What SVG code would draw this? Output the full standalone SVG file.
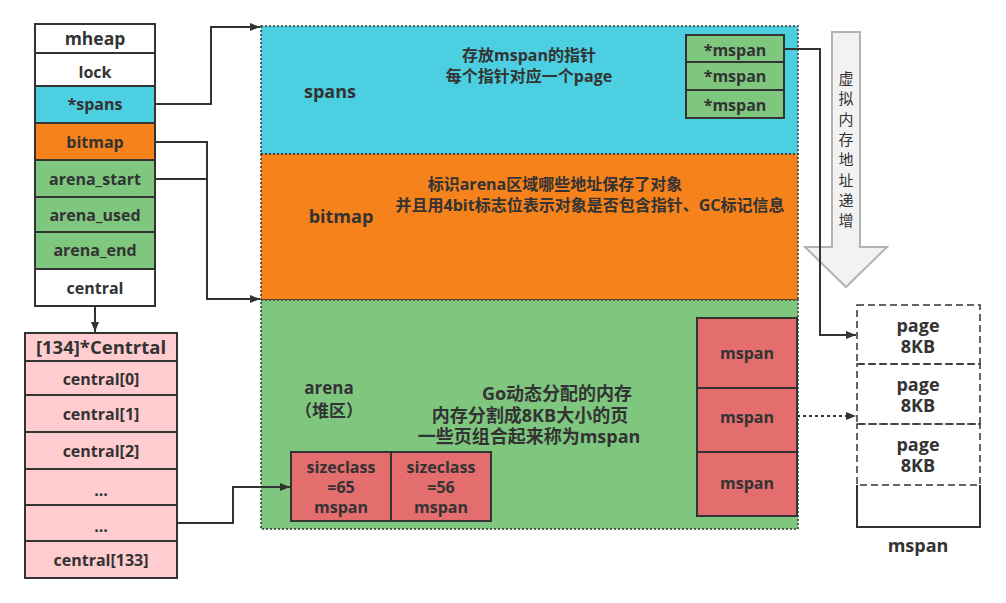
<svg xmlns="http://www.w3.org/2000/svg" width="1006" height="603" viewBox="0 0 1006 603">
<defs>
<marker id="arr" viewBox="0 0 10 10" refX="10" refY="5" markerWidth="10" markerHeight="10" markerUnits="userSpaceOnUse" orient="auto">
<path d="M0,1 L10,5 L0,9 Z" fill="#333"/>
</marker>
</defs>
<style>
text{font-family:"Open Sans","Noto Sans CJK SC",sans-serif;font-size:16px;font-weight:bold;fill:#333;text-anchor:middle;dominant-baseline:central}
.big{font-size:18px}
.cell{stroke:#333;stroke-width:2}
.white{fill:#fff}
.cyan{fill:#4CCFE0}
.orange{fill:#F5821A}
.green{fill:#7FC77F}
.red{fill:#E46E6E}
.pink{fill:#FFCCD0}
.region{stroke:#333;stroke-width:1.5;stroke-dasharray:2 2}
.conn{fill:none;stroke:#333;stroke-width:2}
.dash{fill:none;stroke:#333;stroke-width:1.5;stroke-dasharray:7 4}
.vt{font-weight:normal;font-size:15px;fill:#333}
</style>

<g id="regions">
<g id="spans-region">
<rect x="261" y="26" width="537" height="128" class="cyan region"/>
<text x="330" y="91" class="big">spans</text>
<text x="529" y="55">存放mspan的指针</text>
<text x="529" y="76">每个指针对应一个page</text>
</g>
<g id="bitmap-region">
<rect x="261" y="154" width="537" height="146" class="orange region"/>
<text x="341" y="216" class="big">bitmap</text>
<text x="555" y="184">标识arena区域哪些地址保存了对象</text>
<text x="590" y="205">并且用4bit标志位表示对象是否包含指针、GC标记信息</text>
</g>
<g id="arena-region">
<rect x="261" y="300" width="537" height="229" class="green region"/>
<text x="329" y="387" style="font-size:17px">arena</text>
<text x="329" y="410" style="font-size:17px">（堆区）</text>
<text x="557" y="393" class="big">Go动态分配的内存</text>
<text x="530" y="415" class="big">内存分割成8KB大小的页</text>
<text x="529" y="436" class="big">一些页组合起来称为mspan</text>
</g>
</g>

<g id="mheap">
<rect x="35" y="24" width="120" height="29" class="cell white"/>
<text x="95" y="38" style="font-size:17.5px">mheap</text>
<rect x="35" y="53" width="120" height="33" class="cell white"/>
<text x="95" y="72">lock</text>
<rect x="35" y="86" width="120" height="37" class="cell cyan"/>
<text x="95" y="104">*spans</text>
<rect x="35" y="123" width="120" height="37" class="cell orange"/>
<text x="95" y="142">bitmap</text>
<rect x="35" y="160" width="120" height="37" class="cell green"/>
<text x="95" y="179">arena_start</text>
<rect x="35" y="197" width="120" height="35" class="cell green"/>
<text x="95" y="215">arena_used</text>
<rect x="35" y="232" width="120" height="37" class="cell green"/>
<text x="95" y="250">arena_end</text>
<rect x="35" y="269" width="120" height="37" class="cell white"/>
<text x="95" y="288">central</text>
</g>

<g id="central-table">
<rect x="25" y="333" width="152" height="28" class="cell pink"/>
<text x="101" y="346" style="font-size:18.5px">[134]*Centrtal</text>
<rect x="25" y="361" width="152" height="34" class="cell pink"/>
<text x="101" y="379">central[0]</text>
<rect x="25" y="395" width="152" height="37" class="cell pink"/>
<text x="101" y="414">central[1]</text>
<rect x="25" y="432" width="152" height="37" class="cell pink"/>
<text x="101" y="451">central[2]</text>
<rect x="25" y="469" width="152" height="36" class="cell pink"/>
<text x="101" y="490">...</text>
<rect x="25" y="505" width="152" height="36" class="cell pink"/>
<text x="101" y="526">...</text>
<rect x="25" y="541" width="152" height="37" class="cell pink"/>
<text x="101" y="560">central[133]</text>
</g>

<g id="mspan-pointers">
<rect x="686" y="35" width="98" height="27" class="cell green"/>
<text x="735" y="50">*mspan</text>
<rect x="686" y="62" width="98" height="28" class="cell green"/>
<text x="735" y="76">*mspan</text>
<rect x="686" y="90" width="98" height="28" class="cell green"/>
<text x="735" y="105">*mspan</text>
</g>

<g id="arena-mspans">
<rect x="697" y="318" width="100" height="70" class="cell red"/>
<text x="747" y="353">mspan</text>
<rect x="697" y="388" width="100" height="64" class="cell red"/>
<text x="747" y="417">mspan</text>
<rect x="697" y="452" width="100" height="64" class="cell red"/>
<text x="747" y="483">mspan</text>
</g>

<g id="sizeclass-mspans">
<rect x="291" y="452" width="100" height="69" class="cell red"/>
<text x="341" y="467">sizeclass</text>
<text x="341" y="487">=65</text>
<text x="341" y="507">mspan</text>
<rect x="391" y="452" width="100" height="69" class="cell red"/>
<text x="441" y="467">sizeclass</text>
<text x="441" y="487">=56</text>
<text x="441" y="507">mspan</text>
</g>

<g id="address-arrow">
<path d="M832,32 L860,32 L860,247 L887,247 L846,287 L805,247 L832,247 Z" fill="#F2F2F2" stroke="#B3B3B3" stroke-width="2"/>
<text class="vt" x="846" y="78">虚</text>
<text class="vt" x="846" y="98">拟</text>
<text class="vt" x="846" y="119">内</text>
<text class="vt" x="846" y="139">存</text>
<text class="vt" x="846" y="159">地</text>
<text class="vt" x="846" y="180">址</text>
<text class="vt" x="846" y="200">递</text>
<text class="vt" x="846" y="220">增</text>
</g>

<g id="page-mspan">
<rect x="857" y="305" width="123" height="222" fill="#fff"/>
<path d="M857,485 L857,527 L980,527 L980,485" fill="none" stroke="#333" stroke-width="2"/>
<rect x="857" y="305" width="123" height="59" class="dash"/>
<rect x="857" y="364" width="123" height="60" class="dash"/>
<rect x="857" y="424" width="123" height="61" class="dash"/>
<text x="918" y="325" class="big">page</text>
<text x="918" y="346" class="big">8KB</text>
<text x="918" y="384" class="big">page</text>
<text x="918" y="405" class="big">8KB</text>
<text x="918" y="444" class="big">page</text>
<text x="918" y="465" class="big">8KB</text>
<text x="918" y="545" class="big">mspan</text>
</g>

<g id="connectors">
<path d="M95,306 L95,332" class="conn" marker-end="url(#arr)"/>
<path d="M155,104 L211,104 L211,27 L260,27" class="conn" marker-end="url(#arr)"/>
<path d="M155,142 L207,142 L207,299 L260,299" class="conn" marker-end="url(#arr)"/>
<path d="M155,179 L207,179" class="conn"/>
<path d="M177,523 L233,523 L233,487 L290,487" class="conn" marker-end="url(#arr)"/>
<path d="M784,49 L820,49 L820,335 L856,335" class="conn" marker-end="url(#arr)"/>
<path d="M797,416 L856,416" class="conn" stroke-dasharray="3 3" marker-end="url(#arr)"/>
</g>
</svg>
